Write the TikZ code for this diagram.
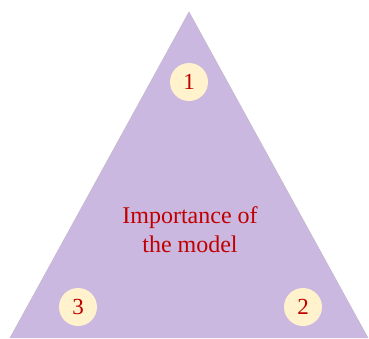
\documentclass[tikz,border=0pt]{standalone}
\usepackage{fontspec}
\setmainfont{Liberation Serif}
\usepackage{xcolor}
\usetikzlibrary{positioning,calc}
\definecolor{triFill}{HTML}{CBB8E0}
\definecolor{triEdge}{HTML}{C4B8D0}
\definecolor{badgeFill}{HTML}{FFF2CC}
\definecolor{textRed}{HTML}{C00000}
\tikzset{
  tri/.style={fill=triFill, draw=triEdge, line width=0.6pt},
  badge/.style={circle, fill=badgeFill, minimum size=38pt, inner sep=0pt,
    text=textRed, font=\fontsize{23}{25}\selectfont},
  lbl/.style={text=textRed, align=center, font=\fontsize{24}{29}\selectfont},
}

\begin{document}
\begin{tikzpicture}[x=1pt, y=-1pt]
  \useasboundingbox (0,0) rectangle (369,338);
  \coordinate (apex) at (189,12);
  \coordinate (bl) at (10,338);
  \coordinate (br) at (368,338);
  \fill[triFill] (apex) -- (br) -- (bl) -- cycle;
  \draw[triEdge, line width=0.6pt] (bl) -- (apex) -- (br);

  \node[badge] (one) at (189,82) {1};
  \node[badge] (two) at (303,307) {2};
  \node[badge] (three) at (78,307) {3};
  \node[lbl] (core) at (190,230) {Importance of\\the model};
\end{tikzpicture}
\end{document}
